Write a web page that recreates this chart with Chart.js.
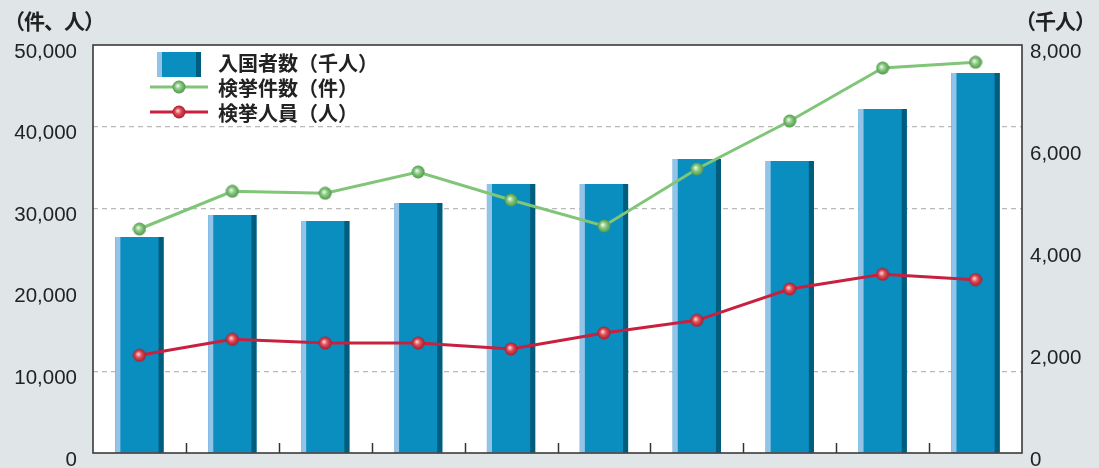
<!DOCTYPE html>
<html lang="ja">
<head>
<meta charset="utf-8">
<script src="https://cdn.jsdelivr.net/npm/chart.js@4/dist/chart.umd.min.js"></script>
<style>
  html, body { margin: 0; padding: 0; background: #e0e5e8; }
  #wrap { position: relative; width: 1099px; height: 468px; }
  .unit { position: absolute; top: 6px; font: bold 21px "Noto Sans CJK JP", sans-serif; letter-spacing: -1px; color: #222; line-height: 28px; white-space: nowrap; }
</style>
</head>
<body>
<div id="wrap">
  <canvas id="chart" width="1099" height="468"></canvas>
  <div class="unit" style="left:4px">（件、人）</div>
  <div class="unit" style="left:1015px">（千人）</div>
</div>
<script>
// data
const years = ['平成8年', '平成9年', '平成10年', '平成11年', '平成12年', '平成13年', '平成14年', '平成15年', '平成16年', '平成17年'];
const entrants = [4235, 4667, 4549, 4902, 5275, 5275, 5765, 5725, 6745, 7451];   // 千人
const cases = [27450, 32070, 31830, 34440, 31000, 27820, 34800, 40690, 47180, 47880]; // 件
const persons = [11970, 13930, 13480, 13480, 12750, 14710, 16260, 20100, 21900, 21240]; // 人
const seriesLabels = ['入国者数（千人）', '検挙件数（件）', '検挙人員（人）'];
const leftTicks = [0, 10000, 20000, 30000, 40000, 50000];
const rightTicks = [0, 2000, 4000, 6000, 8000];
const gridValues = [10000, 30000, 40000];

const barMain = '#0a8ec0', barLight = '#93c4e8', barDark = '#005d7e';
const green = '#80c578', red = '#c8203f';

// little shaded ball used as the point marker
function ball(light, base, dark) {
  const c = document.createElement('canvas');
  c.width = 14; c.height = 14;
  const g = c.getContext('2d');
  const grad = g.createRadialGradient(5.6, 5.6, 0.3, 7, 7, 6.6);
  grad.addColorStop(0, light);
  grad.addColorStop(0.45, base);
  grad.addColorStop(1, dark);
  g.fillStyle = grad;
  g.beginPath();
  g.arc(7, 7, 6.5, 0, Math.PI * 2);
  g.fill();
  return c;
}
const greenBall = ball('#eef8ea', '#88c880', '#4f964a');
const redBall = ball('#fbd6d6', '#dc4b55', '#a8192b');

const fmt = v => v.toLocaleString('en-US');
const tickFont = { family: '"Liberation Sans", Arial, sans-serif', size: 20.5 };

const decor = {
  id: 'decor',
  beforeDraw(chart) {
    const a = chart.chartArea;
    chart.ctx.save();
    chart.ctx.fillStyle = '#fff';
    chart.ctx.fillRect(a.left, a.top, a.right - a.left, a.bottom - a.top);
    chart.ctx.restore();
  },
  afterDatasetDraw(chart, args) {
    if (args.index !== 0) return;
    const ctx = chart.ctx;
    ctx.save();
    args.meta.data.forEach(bar => {
      const p = bar.getProps(['x', 'y', 'base', 'width'], true);
      const s = p.width * 0.105;
      ctx.fillStyle = barLight;
      ctx.fillRect(p.x - p.width / 2, p.y, s, p.base - p.y);
      ctx.fillStyle = barDark;
      ctx.fillRect(p.x + p.width / 2 - s, p.y, s, p.base - p.y);
    });
    ctx.restore();
  },
  afterDraw(chart) {
    const ctx = chart.ctx, a = chart.chartArea;
    const x = chart.scales.x;
    ctx.save();
    // small ticks between categories, pointing up
    ctx.strokeStyle = '#333';
    ctx.lineWidth = 1.5;
    const half = (x.getPixelForValue(1) - x.getPixelForValue(0)) / 2;
    for (let i = 0; i < years.length - 1; i++) {
      const px = Math.round(x.getPixelForValue(i) + half) + 0.5;
      ctx.beginPath();
      ctx.moveTo(px, a.bottom);
      ctx.lineTo(px, a.bottom - 10);
      ctx.stroke();
    }
    // frame
    ctx.strokeStyle = '#3a3a3a';
    ctx.lineWidth = 1.6;
    ctx.strokeRect(a.left, a.top, a.right - a.left, a.bottom - a.top);

    // legend
    const lx = a.left + 64, ly = a.top + 7;
    ctx.fillStyle = barMain;
    ctx.fillRect(lx, ly, 44, 25);
    ctx.fillStyle = barLight;
    ctx.fillRect(lx, ly, 5, 25);
    ctx.fillStyle = barDark;
    ctx.fillRect(lx + 39, ly, 5, 25);

    const ds = chart.data.datasets;
    [[1, greenBall], [2, redBall]].forEach(([i, img], k) => {
      const yy = ly + 35 + k * 25;
      ctx.strokeStyle = ds[i].borderColor;
      ctx.lineWidth = 3;
      ctx.beginPath();
      ctx.moveTo(lx - 7, yy);
      ctx.lineTo(lx + 51, yy);
      ctx.stroke();
      ctx.drawImage(img, lx + 22 - 7, yy - 7);
    });

    ctx.fillStyle = '#222';
    ctx.font = 'bold 20px "Noto Sans CJK JP", sans-serif';
    ctx.textBaseline = 'middle';
    ds.forEach((d, i) => ctx.fillText(d.label, lx + 61, ly + 11 + i * 25));
    ctx.restore();
  }
};

new Chart(document.getElementById('chart'), {
  data: {
    labels: years,
    datasets: [
      {
        type: 'bar', label: seriesLabels[0], data: entrants, yAxisID: 'y1',
        backgroundColor: barMain, borderWidth: 0,
        barPercentage: 0.52, categoryPercentage: 1, order: 3
      },
      {
        type: 'line', label: seriesLabels[1], data: cases, yAxisID: 'y',
        borderColor: green, borderWidth: 3, pointStyle: greenBall,
        pointRadius: 7, tension: 0, order: 2
      },
      {
        type: 'line', label: seriesLabels[2], data: persons, yAxisID: 'y',
        borderColor: red, borderWidth: 3, pointStyle: redBall,
        pointRadius: 7, tension: 0, order: 1
      }
    ]
  },
  options: {
    responsive: false,
    animation: false,
    events: [],
    layout: { padding: { top: 45, left: 0, right: 0, bottom: 0 } },
    plugins: { legend: { display: false }, tooltip: { enabled: false } },
    scales: {
      x: {
        type: 'category',
        ticks: { display: false },
        grid: { display: false },
        border: { display: false },
        afterFit: s => { s.height = 15; s.paddingLeft = 0; s.paddingRight = 0; }
      },
      y: {
        position: 'left', min: 0, max: 50000,
        afterBuildTicks: s => { s.ticks = leftTicks.map(v => ({ value: v })); },
        ticks: { callback: v => fmt(v), padding: 16, labelOffset: 7, color: '#222', font: tickFont },
        grid: {
          drawTicks: false, lineWidth: 1.2,
          color: c => gridValues.includes(c.tick.value) ? '#b9b9b9' : 'rgba(0,0,0,0)'
        },
        border: { display: false, dash: [5, 4] },
        afterFit: s => { s.width = 93; s.paddingTop = 0; s.paddingBottom = 0; }
      },
      y1: {
        position: 'right', min: 0, max: 8000,
        afterBuildTicks: s => { s.ticks = rightTicks.map(v => ({ value: v })); },
        ticks: { callback: v => fmt(v), padding: 8, labelOffset: 7, color: '#222', font: tickFont },
        grid: { drawOnChartArea: false, drawTicks: false },
        border: { display: false },
        afterFit: s => { s.width = 77; s.paddingTop = 0; s.paddingBottom = 0; }
      }
    }
  },
  plugins: [decor]
});
</script>
</body>
</html>
